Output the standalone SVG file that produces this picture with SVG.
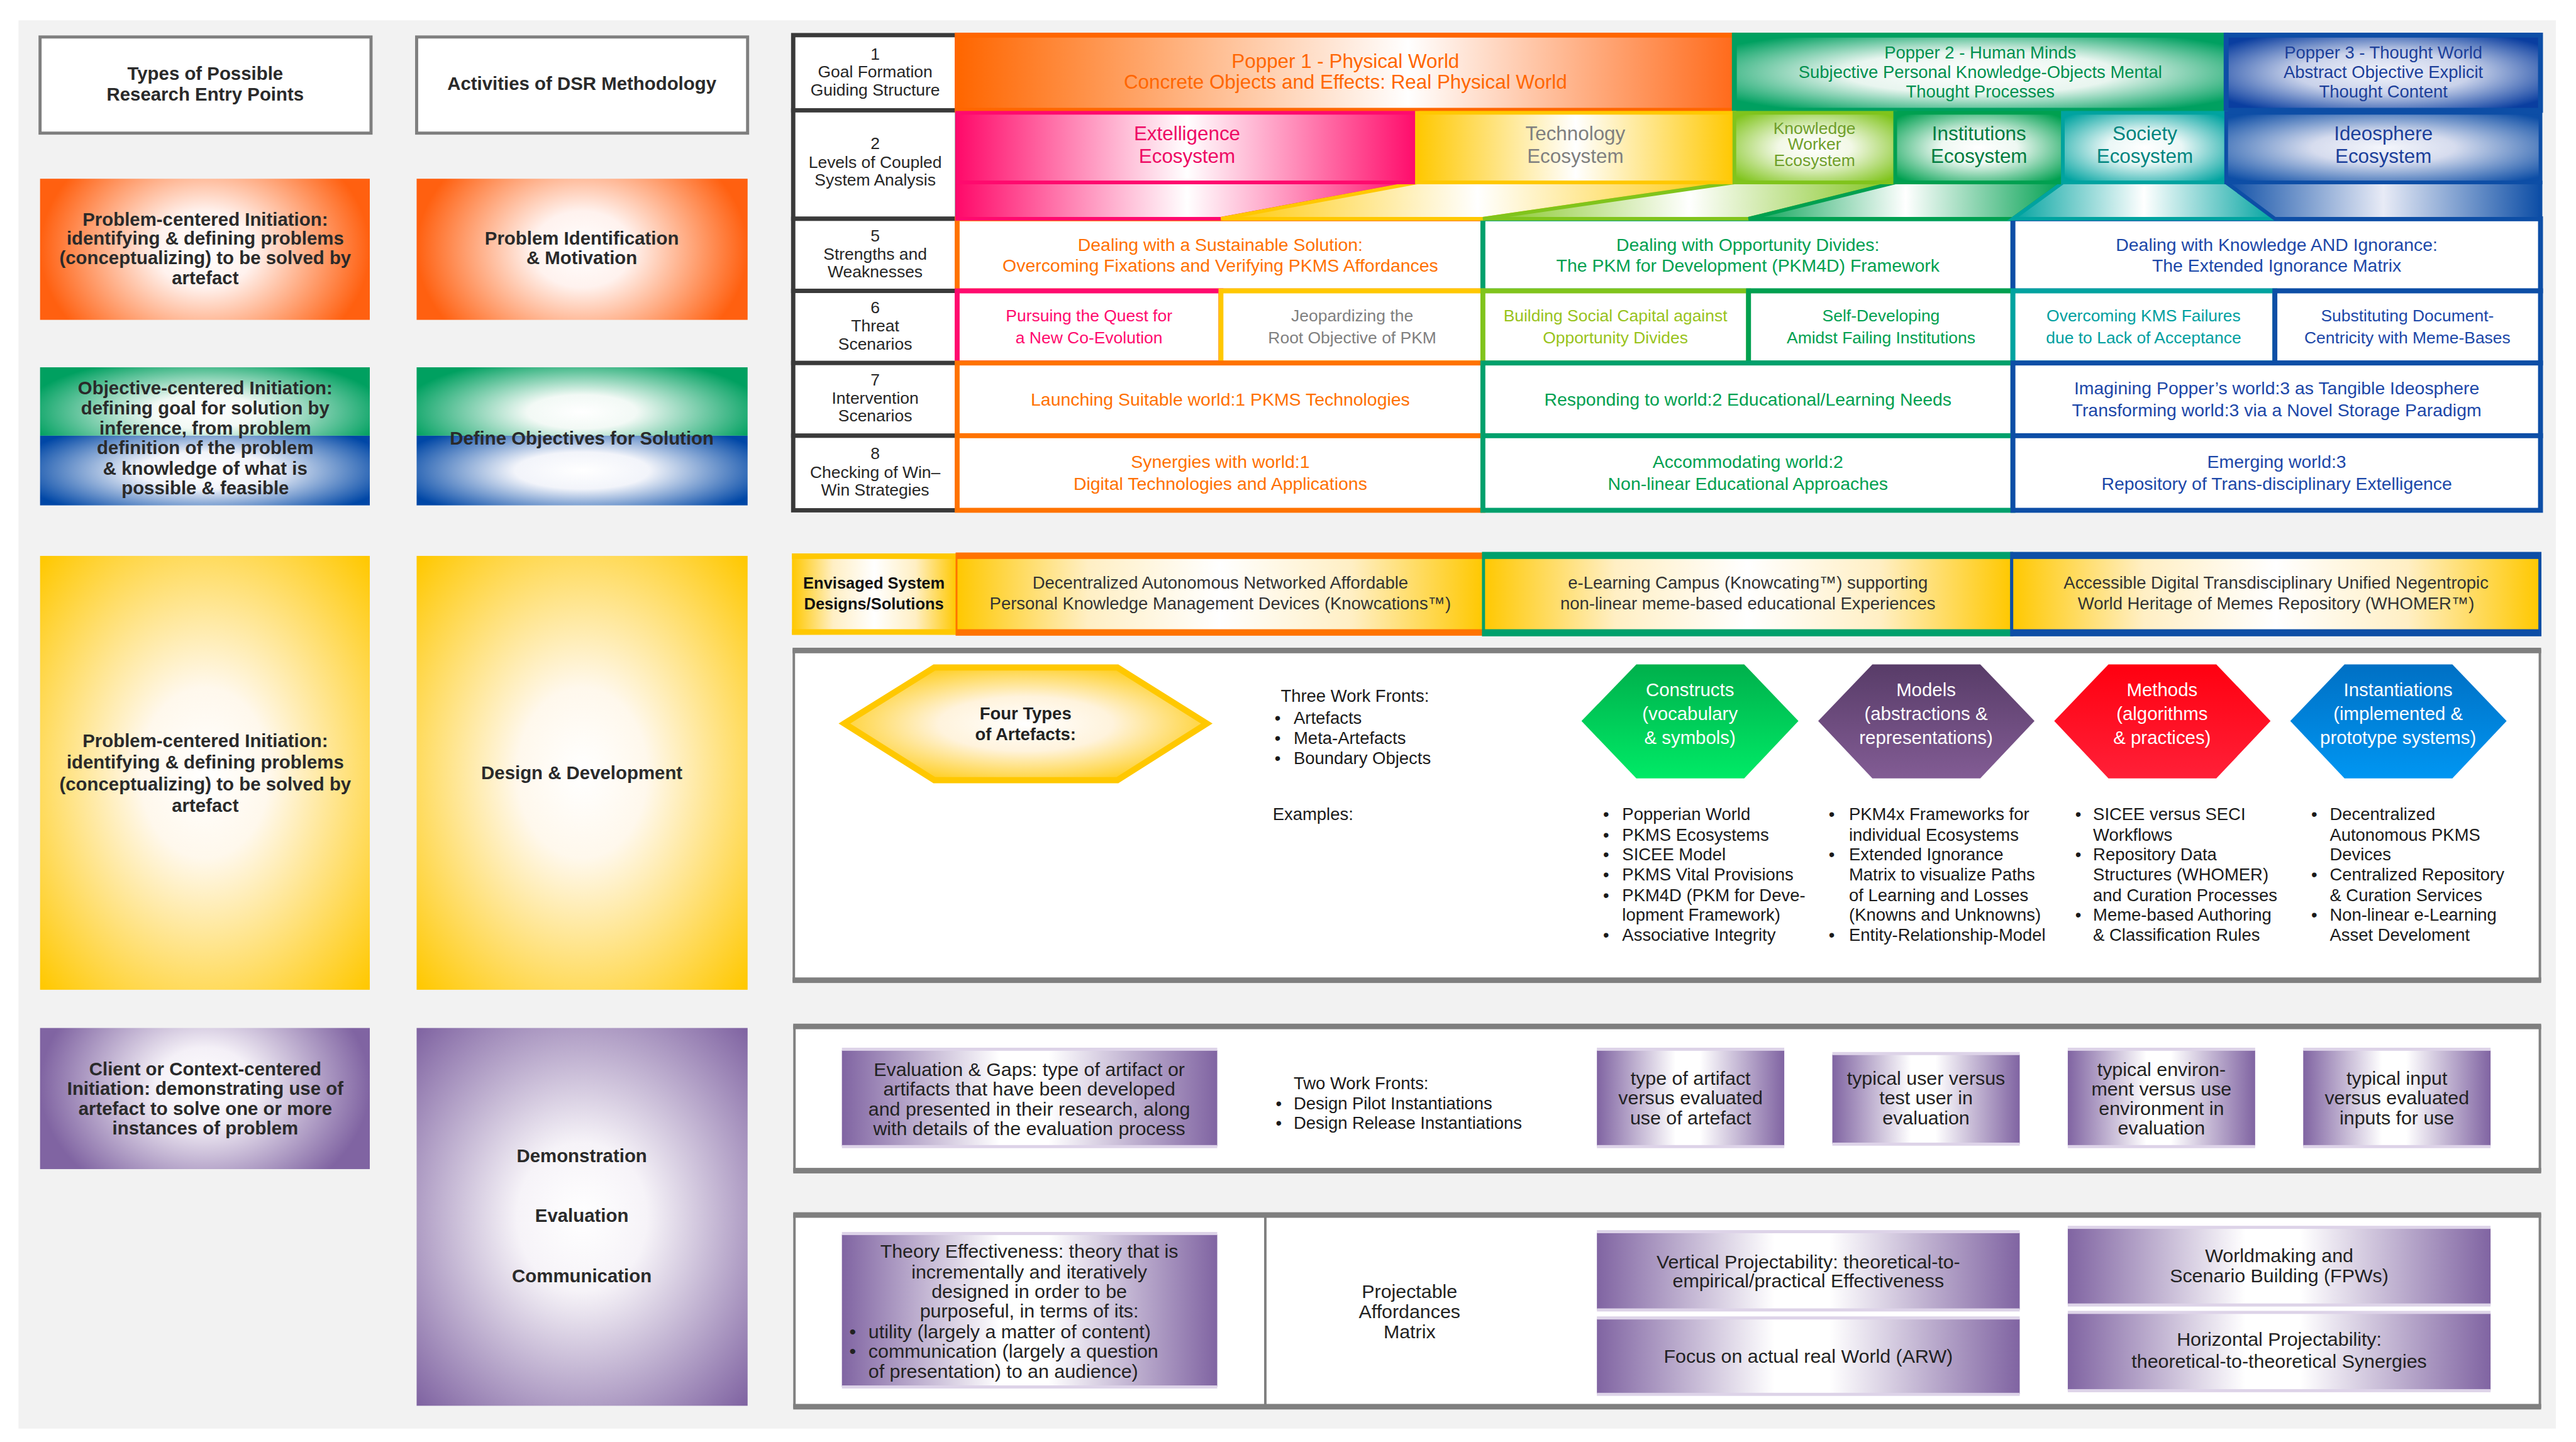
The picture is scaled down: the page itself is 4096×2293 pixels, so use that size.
<svg xmlns="http://www.w3.org/2000/svg" width="4096" height="2293" viewBox="0 0 4096 2293">
<defs>
<linearGradient id="gP1" x1="0" y1="0" x2="1" y2="0"><stop offset="0" stop-color="#ff6600"/><stop offset=".58" stop-color="#ffffff"/><stop offset="1" stop-color="#ff6a1a"/></linearGradient>
<radialGradient id="rP2" cx=".5" cy=".5" r=".62"><stop offset="0" stop-color="#ffffff"/><stop offset=".45" stop-color="#e8f5ef"/><stop offset="1" stop-color="#00a060"/></radialGradient>
<radialGradient id="rP3" cx=".5" cy=".5" r=".62"><stop offset="0" stop-color="#f2f4fb"/><stop offset=".45" stop-color="#c9d2ea"/><stop offset="1" stop-color="#0a3ea0"/></radialGradient>
<linearGradient id="hPink" x1="0" y1="0" x2="1" y2="0"><stop offset="0" stop-color="#ff0a6a"/><stop offset=".5" stop-color="#ffffff"/><stop offset="1" stop-color="#ff0a6a"/></linearGradient>
<linearGradient id="hYel" x1="0" y1="0" x2="1" y2="0"><stop offset="0" stop-color="#ffc800"/><stop offset=".5" stop-color="#ffffff"/><stop offset="1" stop-color="#ffc800"/></linearGradient>
<linearGradient id="hLG" x1="0" y1="0" x2="1" y2="0"><stop offset="0" stop-color="#80c41c"/><stop offset=".5" stop-color="#ffffff"/><stop offset="1" stop-color="#80c41c"/></linearGradient>
<linearGradient id="hGrn" x1="0" y1="0" x2="1" y2="0"><stop offset="0" stop-color="#00a050"/><stop offset=".5" stop-color="#ffffff"/><stop offset="1" stop-color="#00a050"/></linearGradient>
<linearGradient id="hTeal" x1="0" y1="0" x2="1" y2="0"><stop offset="0" stop-color="#00a3a0"/><stop offset=".5" stop-color="#ffffff"/><stop offset="1" stop-color="#00a3a0"/></linearGradient>
<linearGradient id="hBlue" x1="0" y1="0" x2="1" y2="0"><stop offset="0" stop-color="#0d4ea6"/><stop offset=".5" stop-color="#e8ebf6"/><stop offset="1" stop-color="#0d4ea6"/></linearGradient>
<radialGradient id="rLG" cx=".5" cy=".5" r=".65"><stop offset="0" stop-color="#ffffff"/><stop offset=".35" stop-color="#f2f8e6"/><stop offset="1" stop-color="#80c41c"/></radialGradient>
<radialGradient id="rGrn" cx=".5" cy=".5" r=".65"><stop offset="0" stop-color="#ffffff"/><stop offset=".35" stop-color="#eef8f2"/><stop offset="1" stop-color="#00a050"/></radialGradient>
<radialGradient id="rTeal" cx=".5" cy=".5" r=".65"><stop offset="0" stop-color="#ffffff"/><stop offset=".35" stop-color="#eaf7f6"/><stop offset="1" stop-color="#00a3a0"/></radialGradient>
<radialGradient id="rBlue" cx=".5" cy=".5" r=".65"><stop offset="0" stop-color="#f4f6fc"/><stop offset=".35" stop-color="#d6dcee"/><stop offset="1" stop-color="#0d4ea6"/></radialGradient>
<radialGradient id="rOr" cx=".5" cy=".5" r=".5" gradientTransform="translate(.5 .5) scale(1 1.8) translate(-.5 -.5)"><stop offset="0" stop-color="#ffffff"/><stop offset=".3" stop-color="#fff2ee"/><stop offset="1" stop-color="#ff6010"/></radialGradient>
<radialGradient id="rPurS" cx=".5" cy=".45" r=".5" gradientTransform="translate(.5 .5) scale(1 1.8) translate(-.5 -.5)"><stop offset="0" stop-color="#ffffff"/><stop offset=".3" stop-color="#f4f0f7"/><stop offset="1" stop-color="#8064a2"/></radialGradient>
<radialGradient id="rGrHalf" cx=".5" cy=".6" r=".55" gradientTransform="translate(.5 .5) scale(1 1.5) translate(-.5 -.5)"><stop offset="0" stop-color="#ffffff"/><stop offset=".3" stop-color="#f2f9f5"/><stop offset="1" stop-color="#00a060"/></radialGradient>
<radialGradient id="rBlHalf" cx=".5" cy=".5" r=".58" gradientTransform="translate(.5 .5) scale(1 1.3) translate(-.5 -.5)"><stop offset="0" stop-color="#ffffff"/><stop offset=".35" stop-color="#f2f4fa"/><stop offset="1" stop-color="#0047a6"/></radialGradient>
<radialGradient id="rYel" cx=".5" cy=".5" r=".7"><stop offset="0" stop-color="#ffffff"/><stop offset=".28" stop-color="#fff8ec"/><stop offset="1" stop-color="#ffc800"/></radialGradient>
<radialGradient id="rPur" cx=".5" cy=".5" r=".7"><stop offset="0" stop-color="#ffffff"/><stop offset=".28" stop-color="#f6f3f8"/><stop offset="1" stop-color="#8064a2"/></radialGradient>
<radialGradient id="rFour" cx=".5" cy=".5" r=".6"><stop offset="0" stop-color="#ffffff"/><stop offset=".4" stop-color="#fff3dc"/><stop offset="1" stop-color="#ffc800"/></radialGradient>
<linearGradient id="hEnv" x1="0" y1="0" x2="1" y2="0"><stop offset="0" stop-color="#ffc800"/><stop offset=".25" stop-color="#ffefc4"/><stop offset=".5" stop-color="#ffffff"/><stop offset=".75" stop-color="#ffefc4"/><stop offset="1" stop-color="#ffc800"/></linearGradient>
<linearGradient id="hPur" x1="0" y1="0" x2="1" y2="0"><stop offset="0" stop-color="#8064a2"/><stop offset=".42" stop-color="#ffffff"/><stop offset=".55" stop-color="#ffffff"/><stop offset="1" stop-color="#8064a2"/></linearGradient>
<linearGradient id="vCon" x1="0" y1="0" x2="0" y2="1"><stop offset="0" stop-color="#00b04c"/><stop offset="1" stop-color="#00ea66"/></linearGradient>
<linearGradient id="vMod" x1="0" y1="0" x2="0" y2="1"><stop offset="0" stop-color="#583c68"/><stop offset="1" stop-color="#825c94"/></linearGradient>
<linearGradient id="vMet" x1="0" y1="0" x2="0" y2="1"><stop offset="0" stop-color="#ff0010"/><stop offset="1" stop-color="#ff2038"/></linearGradient>
<linearGradient id="vIns" x1="0" y1="0" x2="0" y2="1"><stop offset="0" stop-color="#0070c4"/><stop offset="1" stop-color="#0096f2"/></linearGradient>
</defs>
<style>
text { font-family: "Liberation Sans", Arial, sans-serif; }
.c { text-anchor: middle; }
.lc { font-size: 30px; font-weight: bold; fill: #2a2a2a; }
.lab { font-size: 27px; fill: #262626; }
.cell { font-size: 29px; }
.r6 { font-size: 27px; }
.eco { font-size: 32px; }
.env { font-size: 28px; fill: #333333; }
.lst { font-size: 28px; fill: #1a1a1a; }
.hex { font-size: 30px; fill: #ffffff; }
.pb { font-size: 31px; fill: #222222; }
.hdr { fill: #ffffff; stroke: #7f7f7f; stroke-width: 5; }
.lbl { fill: #ffffff; stroke: #3a3a3a; stroke-width: 7; }
.frame { fill: #ffffff; stroke: #808080; stroke-width: 4; }
.bar { fill: #7f7f7f; }
.band { fill: #ddd3e8; }
.w1 { fill: #ffffff; stroke: #ff7300; stroke-width: 8; }
.w2 { fill: #ffffff; stroke: #00a06c; stroke-width: 8; }
.w3 { fill: #ffffff; stroke: #0d4ea6; stroke-width: 8; }
.t1 { fill: #ff7000; }
.t2 { fill: #00a050; }
.t3 { fill: #1c47a8; }
</style>
<rect width="4096" height="2293" fill="#ffffff"/>
<g transform="scale(0.98)">
<rect x="30" y="33" width="4117" height="2285" fill="#f2f2f2"/>

<!-- Left columns -->
<g id="hdr-entry"><rect class="hdr" x="65" y="60" width="537" height="156"/><text class="lc c"><tspan x="333" y="130">Types of Possible</tspan><tspan x="333" y="163">Research Entry Points</tspan></text></g>
<g id="hdr-activities"><rect class="hdr" x="676" y="60" width="537" height="156"/><text class="lc c"><tspan x="944" y="146">Activities of DSR Methodology</tspan></text></g>

<g id="entry-problem"><rect x="65" y="290" width="535" height="229" fill="url(#rOr)"/><text class="lc c"><tspan x="333" y="366">Problem-centered Initiation:</tspan><tspan x="333" y="397">identifying &amp; defining problems</tspan><tspan x="333" y="429">(conceptualizing) to be solved by</tspan><tspan x="333" y="461">artefact</tspan></text></g>
<g id="act-problem"><rect x="676" y="290" width="537" height="229" fill="url(#rOr)"/><text class="lc c"><tspan x="944" y="397">Problem Identification</tspan><tspan x="944" y="429">&amp; Motivation</tspan></text></g>

<g id="entry-objective"><rect x="65" y="596" width="535" height="111" fill="url(#rGrHalf)"/><rect x="65" y="707" width="535" height="113" fill="url(#rBlHalf)"/><text class="lc c"><tspan x="333" y="640">Objective-centered Initiation:</tspan><tspan x="333" y="672">defining goal for solution by</tspan><tspan x="333" y="705">inference, from problem</tspan><tspan x="333" y="737">definition of the problem</tspan><tspan x="333" y="770">&amp; knowledge of what is</tspan><tspan x="333" y="802">possible &amp; feasible</tspan></text></g>
<g id="act-objective"><rect x="676" y="596" width="537" height="111" fill="url(#rGrHalf)"/><rect x="676" y="707" width="537" height="113" fill="url(#rBlHalf)"/><text class="lc c"><tspan x="944" y="721">Define Objectives for Solution</tspan></text></g>

<g id="entry-design"><rect x="65" y="902" width="535" height="704" fill="url(#rYel)"/><text class="lc c"><tspan x="333" y="1212">Problem-centered Initiation:</tspan><tspan x="333" y="1247">identifying &amp; defining problems</tspan><tspan x="333" y="1283">(conceptualizing) to be solved by</tspan><tspan x="333" y="1317">artefact</tspan></text></g>
<g id="act-design"><rect x="676" y="902" width="537" height="704" fill="url(#rYel)"/><text class="lc c"><tspan x="944" y="1264">Design &amp; Development</tspan></text></g>

<g id="entry-client"><rect x="65" y="1668" width="535" height="229" fill="url(#rPurS)"/><text class="lc c"><tspan x="333" y="1745">Client or Context-centered</tspan><tspan x="333" y="1777">Initiation: demonstrating use of</tspan><tspan x="333" y="1809">artefact to solve one or more</tspan><tspan x="333" y="1841">instances of problem</tspan></text></g>
<g id="act-demo"><rect x="676" y="1668" width="537" height="613" fill="url(#rPur)"/><text class="lc c"><tspan x="944" y="1886">Demonstration</tspan><tspan x="944" y="1983">Evaluation</tspan><tspan x="944" y="2081">Communication</tspan></text></g>

<!-- Table: label column -->
<g id="lbl-1"><rect class="lbl" x="1287" y="57" width="266" height="122"/><text class="lab c"><tspan x="1420" y="97">1</tspan><tspan x="1420" y="126">Goal Formation</tspan><tspan x="1420" y="155">Guiding Structure</tspan></text></g>
<g id="lbl-2"><rect class="lbl" x="1287" y="179" width="266" height="176"/><text class="lab c"><tspan x="1420" y="242">2</tspan><tspan x="1420" y="272">Levels of Coupled</tspan><tspan x="1420" y="301">System Analysis</tspan></text></g>
<g id="lbl-5"><rect class="lbl" x="1287" y="355" width="266" height="117"/><text class="lab c"><tspan x="1420" y="392">5</tspan><tspan x="1420" y="421">Strengths and</tspan><tspan x="1420" y="450">Weaknesses</tspan></text></g>
<g id="lbl-6"><rect class="lbl" x="1287" y="472" width="266" height="117"/><text class="lab c"><tspan x="1420" y="508">6</tspan><tspan x="1420" y="538">Threat</tspan><tspan x="1420" y="567">Scenarios</tspan></text></g>
<g id="lbl-7"><rect class="lbl" x="1287" y="589" width="266" height="118"/><text class="lab c"><tspan x="1420" y="626">7</tspan><tspan x="1420" y="655">Intervention</tspan><tspan x="1420" y="684">Scenarios</tspan></text></g>
<g id="lbl-8"><rect class="lbl" x="1287" y="707" width="266" height="121"/><text class="lab c"><tspan x="1420" y="745">8</tspan><tspan x="1420" y="775">Checking of Win–</tspan><tspan x="1420" y="804">Win Strategies</tspan></text></g>

<!-- Row 1 -->
<g id="popper1"><rect x="1553" y="57" width="1261" height="122" fill="url(#gP1)" stroke="#ff6600" stroke-width="8"/><text class="c" font-size="32" fill="#ff6600"><tspan x="2183" y="110">Popper 1 - Physical World</tspan><tspan x="2183" y="144">Concrete Objects and Effects: Real Physical World</tspan></text></g>
<g id="popper2"><rect x="2814" y="57" width="798" height="122" fill="url(#rP2)" stroke="#00a060" stroke-width="8"/><text class="c" font-size="28" fill="#00904f"><tspan x="3213" y="95">Popper 2 - Human Minds</tspan><tspan x="3213" y="127">Subjective Personal Knowledge-Objects Mental</tspan><tspan x="3213" y="158">Thought Processes</tspan></text></g>
<g id="popper3"><rect x="3612" y="57" width="510" height="122" fill="url(#rP3)" stroke="#0d4ea6" stroke-width="8"/><text class="c" font-size="28" fill="#1c3f9a"><tspan x="3867" y="95">Popper 3 - Thought World</tspan><tspan x="3867" y="127">Abstract Objective Explicit</tspan><tspan x="3867" y="158">Thought Content</tspan></text></g>

<!-- Rows 5-8 -->
<g id="r5-w1"><rect class="w1" x="1553" y="355" width="853" height="117"/><text class="cell c t1"><tspan x="1980" y="407">Dealing with a Sustainable Solution:</tspan><tspan x="1980" y="441">Overcoming Fixations and Verifying PKMS Affordances</tspan></text></g>
<g id="r5-w2"><rect class="w2" x="2406" y="355" width="860" height="117"/><text class="cell c t2"><tspan x="2836" y="407">Dealing with Opportunity Divides:</tspan><tspan x="2836" y="441">The PKM for Development (PKM4D) Framework</tspan></text></g>
<g id="r5-w3"><rect class="w3" x="3266" y="355" width="856" height="117"/><text class="cell c t3"><tspan x="3694" y="407">Dealing with Knowledge AND Ignorance:</tspan><tspan x="3694" y="441">The Extended Ignorance Matrix</tspan></text></g>

<g id="r6-pursuing"><rect x="1553" y="472" width="428" height="117" fill="#fff" stroke="#ff0a6e" stroke-width="8"/><text class="r6 c" fill="#ff0a6e"><tspan x="1767" y="521">Pursuing the Quest for</tspan><tspan x="1767" y="557">a New Co-Evolution</tspan></text></g>
<g id="r6-jeopardizing"><rect x="1981" y="472" width="425" height="117" fill="#fff" stroke="#ffc800" stroke-width="8"/><text class="r6 c" fill="#808080"><tspan x="2194" y="521">Jeopardizing the</tspan><tspan x="2194" y="557">Root Objective of PKM</tspan></text></g>
<g id="r6-building"><rect x="2406" y="472" width="431" height="117" fill="#fff" stroke="#80c41c" stroke-width="8"/><text class="r6 c" fill="#99c31c"><tspan x="2621" y="521">Building Social Capital against</tspan><tspan x="2621" y="557">Opportunity Divides</tspan></text></g>
<g id="r6-selfdev"><rect x="2837" y="472" width="429" height="117" fill="#fff" stroke="#00a050" stroke-width="8"/><text class="r6 c t2"><tspan x="3052" y="521">Self-Developing</tspan><tspan x="3052" y="557">Amidst Failing Institutions</tspan></text></g>
<g id="r6-overcoming"><rect x="3266" y="472" width="425" height="117" fill="#fff" stroke="#00a3a0" stroke-width="8"/><text class="r6 c" fill="#00a0a0"><tspan x="3478" y="521">Overcoming KMS Failures</tspan><tspan x="3478" y="557">due to Lack of Acceptance</tspan></text></g>
<g id="r6-substituting"><rect x="3691" y="472" width="431" height="117" fill="#fff" stroke="#0d4ea6" stroke-width="8"/><text class="r6 c t3"><tspan x="3906" y="521">Substituting Document-</tspan><tspan x="3906" y="557">Centricity with Meme-Bases</tspan></text></g>

<g id="r7-w1"><rect class="w1" x="1553" y="589" width="853" height="118"/><text class="cell c t1"><tspan x="1980" y="658">Launching Suitable world:1 PKMS Technologies</tspan></text></g>
<g id="r7-w2"><rect class="w2" x="2406" y="589" width="860" height="118"/><text class="cell c t2"><tspan x="2836" y="658">Responding to world:2 Educational/Learning Needs</tspan></text></g>
<g id="r7-w3"><rect class="w3" x="3266" y="589" width="856" height="118"/><text class="cell c t3"><tspan x="3694" y="640">Imagining Popper’s world:3 as Tangible Ideosphere</tspan><tspan x="3694" y="676">Transforming world:3 via a Novel Storage Paradigm</tspan></text></g>

<g id="r8-w1"><rect class="w1" x="1553" y="707" width="853" height="121"/><text class="cell c t1"><tspan x="1980" y="759">Synergies with world:1</tspan><tspan x="1980" y="795">Digital Technologies and Applications</tspan></text></g>
<g id="r8-w2"><rect class="w2" x="2406" y="707" width="860" height="121"/><text class="cell c t2"><tspan x="2836" y="759">Accommodating world:2</tspan><tspan x="2836" y="795">Non-linear Educational Approaches</tspan></text></g>
<g id="r8-w3"><rect class="w3" x="3266" y="707" width="856" height="121"/><text class="cell c t3"><tspan x="3694" y="759">Emerging world:3</tspan><tspan x="3694" y="795">Repository of Trans-disciplinary Extelligence</tspan></text></g>

<!-- Connectors: ecosystem funnels -->
<g id="connectors" stroke-width="6" stroke-linejoin="miter">
<polygon points="1553,296 2299,296 1981,355 1553,355" fill="url(#hPink)" stroke="#ff0a6e"/>
<polygon points="2299,296 2814,296 2406,355 1981,355" fill="url(#hYel)" stroke="#ffc800"/>
<polygon points="2814,296 3075,296 2837,355 2406,355" fill="url(#hLG)" stroke="#80c41c"/>
<polygon points="3075,296 3347,296 3266,355 2837,355" fill="url(#hGrn)" stroke="#00a050"/>
<polygon points="3347,296 3612,296 3691,355 3266,355" fill="url(#hTeal)" stroke="#00a3a0"/>
<polygon points="3612,296 4122,296 4122,355 3691,355" fill="url(#hBlue)" stroke="#0d4ea6"/>
</g>

<!-- Row 2 ecosystems -->
<g id="eco-extelligence"><rect x="1553" y="183" width="746" height="113" fill="url(#hPink)" stroke="#ff0a6e" stroke-width="6"/><text class="eco c" fill="#ee0a64"><tspan x="1926" y="228">Extelligence</tspan><tspan x="1926" y="264">Ecosystem</tspan></text></g>
<g id="eco-technology"><rect x="2299" y="183" width="515" height="113" fill="url(#hYel)" stroke="#ffc800" stroke-width="6"/><text class="eco c" fill="#7f7f7f"><tspan x="2556" y="228">Technology</tspan><tspan x="2556" y="264">Ecosystem</tspan></text></g>
<g id="eco-kw"><rect x="2814" y="183" width="261" height="113" fill="url(#rLG)" stroke="#80c41c" stroke-width="6"/><text class="c" font-size="27" fill="#6f9f2a"><tspan x="2944" y="217">Knowledge</tspan><tspan x="2944" y="243">Worker</tspan><tspan x="2944" y="269">Ecosystem</tspan></text></g>
<g id="eco-institutions"><rect x="3075" y="183" width="272" height="113" fill="url(#rGrn)" stroke="#00a050" stroke-width="6"/><text class="eco c" fill="#007c40"><tspan x="3211" y="228">Institutions</tspan><tspan x="3211" y="264">Ecosystem</tspan></text></g>
<g id="eco-society"><rect x="3347" y="183" width="265" height="113" fill="url(#rTeal)" stroke="#00a3a0" stroke-width="6"/><text class="eco c" fill="#00857f"><tspan x="3480" y="228">Society</tspan><tspan x="3480" y="264">Ecosystem</tspan></text></g>
<g id="eco-ideosphere"><rect x="3612" y="183" width="510" height="113" fill="url(#rBlue)" stroke="#0d4ea6" stroke-width="6"/><text class="eco c" fill="#1c3f9a"><tspan x="3867" y="228">Ideosphere</tspan><tspan x="3867" y="264">Ecosystem</tspan></text></g>

<!-- Envisaged row -->
<g id="env-label"><rect x="1285" y="898" width="267" height="132" fill="url(#hEnv)"/><rect x="1285" y="898" width="267" height="9" fill="#ffc800"/><rect x="1285" y="1021" width="267" height="9" fill="#ffc800"/><text class="c" font-size="26" font-weight="bold" fill="#111"><tspan x="1418" y="955">Envisaged System</tspan><tspan x="1418" y="989">Designs/Solutions</tspan></text></g>
<g id="env-1"><rect x="1552" y="898" width="855" height="132" fill="url(#hEnv)" stroke="#ff7300" stroke-width="3"/><rect x="1552" y="898" width="855" height="9" fill="#ff7300"/><rect x="1552" y="1021" width="855" height="9" fill="#ff7300"/><text class="env c"><tspan x="1980" y="955">Decentralized Autonomous Networked Affordable</tspan><tspan x="1980" y="989">Personal Knowledge Management Devices (Knowcations™)</tspan></text></g>
<g id="env-2"><rect x="2407" y="898" width="857" height="132" fill="url(#hEnv)" stroke="#00a06c" stroke-width="5"/><rect x="2407" y="898" width="857" height="9" fill="#00a06c"/><rect x="2407" y="1021" width="857" height="9" fill="#00a06c"/><text class="env c"><tspan x="2836" y="955">e-Learning Campus (Knowcating™) supporting</tspan><tspan x="2836" y="989">non-linear meme-based educational Experiences</tspan></text></g>
<g id="env-3"><rect x="3264" y="898" width="857" height="132" fill="url(#hEnv)" stroke="#0d4ea6" stroke-width="5"/><rect x="3264" y="898" width="857" height="9" fill="#0d4ea6"/><rect x="3264" y="1021" width="857" height="9" fill="#0d4ea6"/><text class="env c"><tspan x="3693" y="955">Accessible Digital Transdisciplinary Unified Negentropic</tspan><tspan x="3693" y="989">World Heritage of Memes Repository (WHOMER™)</tspan></text></g>

<!-- Artefacts frame -->
<g id="artefacts-frame"><rect class="frame" x="1288" y="1055" width="2833" height="536"/><rect class="bar" x="1286" y="1051" width="2837" height="9"/><rect class="bar" x="1286" y="1586" width="2837" height="9"/></g>
<g id="four-types"><polygon points="1370,1174 1516,1083 1813,1083 1958,1174 1813,1266 1516,1266" fill="url(#rFour)" stroke="#ffc800" stroke-width="10"/><text class="c" font-size="28" font-weight="bold" fill="#222"><tspan x="1664" y="1167">Four Types</tspan><tspan x="1664" y="1201">of Artefacts:</tspan></text></g>
<g id="work-fronts-3"><text class="lst"><tspan x="2078" y="1139">Three Work Fronts:</tspan></text><text class="lst"><tspan x="2068" y="1174">•</tspan><tspan x="2099" y="1174">Artefacts</tspan><tspan x="2068" y="1207">•</tspan><tspan x="2099" y="1207">Meta-Artefacts</tspan><tspan x="2068" y="1240">•</tspan><tspan x="2099" y="1240">Boundary Objects</tspan></text><text class="lst"><tspan x="2065" y="1331">Examples:</tspan></text></g>

<g id="constructs"><polygon points="2566,1170 2655,1078 2830,1078 2918,1170 2830,1263 2655,1263" fill="url(#vCon)"/><text class="hex c"><tspan x="2742" y="1130">Constructs</tspan><tspan x="2742" y="1168">(vocabulary</tspan><tspan x="2742" y="1207">&amp; symbols)</tspan></text></g>
<g id="models"><polygon points="2950,1170 3038,1078 3213,1078 3301,1170 3213,1263 3038,1263" fill="url(#vMod)"/><text class="hex c"><tspan x="3125" y="1130">Models</tspan><tspan x="3125" y="1168">(abstractions &amp;</tspan><tspan x="3125" y="1207">representations)</tspan></text></g>
<g id="methods"><polygon points="3333,1170 3421,1078 3596,1078 3684,1170 3596,1263 3421,1263" fill="url(#vMet)"/><text class="hex c"><tspan x="3508" y="1130">Methods</tspan><tspan x="3508" y="1168">(algorithms</tspan><tspan x="3508" y="1207">&amp; practices)</tspan></text></g>
<g id="instantiations"><polygon points="3716,1170 3804,1078 3979,1078 4067,1170 3979,1263 3804,1263" fill="url(#vIns)"/><text class="hex c"><tspan x="3891" y="1130">Instantiations</tspan><tspan x="3891" y="1168">(implemented &amp;</tspan><tspan x="3891" y="1207">prototype systems)</tspan></text></g>

<g id="ex-constructs"><text class="lst">
<tspan x="2601" y="1331">•</tspan><tspan x="2632" y="1331">Popperian World</tspan>
<tspan x="2601" y="1364">•</tspan><tspan x="2632" y="1364">PKMS Ecosystems</tspan>
<tspan x="2601" y="1396">•</tspan><tspan x="2632" y="1396">SICEE Model</tspan>
<tspan x="2601" y="1429">•</tspan><tspan x="2632" y="1429">PKMS Vital Provisions</tspan>
<tspan x="2601" y="1462">•</tspan><tspan x="2632" y="1462">PKM4D (PKM for Deve-</tspan>
<tspan x="2632" y="1494">lopment Framework)</tspan>
<tspan x="2601" y="1527">•</tspan><tspan x="2632" y="1527">Associative Integrity</tspan></text></g>
<g id="ex-models"><text class="lst">
<tspan x="2967" y="1331">•</tspan><tspan x="3000" y="1331">PKM4x Frameworks for</tspan>
<tspan x="3000" y="1364">individual Ecosystems</tspan>
<tspan x="2967" y="1396">•</tspan><tspan x="3000" y="1396">Extended Ignorance</tspan>
<tspan x="3000" y="1429">Matrix to visualize Paths</tspan>
<tspan x="3000" y="1462">of Learning and Losses</tspan>
<tspan x="3000" y="1494">(Knowns and Unknowns)</tspan>
<tspan x="2967" y="1527">•</tspan><tspan x="3000" y="1527">Entity-Relationship-Model</tspan></text></g>
<g id="ex-methods"><text class="lst">
<tspan x="3367" y="1331">•</tspan><tspan x="3396" y="1331">SICEE versus SECI</tspan>
<tspan x="3396" y="1364">Workflows</tspan>
<tspan x="3367" y="1396">•</tspan><tspan x="3396" y="1396">Repository Data</tspan>
<tspan x="3396" y="1429">Structures (WHOMER)</tspan>
<tspan x="3396" y="1462">and Curation Processes</tspan>
<tspan x="3367" y="1494">•</tspan><tspan x="3396" y="1494">Meme-based Authoring</tspan>
<tspan x="3396" y="1527">&amp; Classification Rules</tspan></text></g>
<g id="ex-instantiations"><text class="lst">
<tspan x="3750" y="1331">•</tspan><tspan x="3780" y="1331">Decentralized</tspan>
<tspan x="3780" y="1364">Autonomous PKMS</tspan>
<tspan x="3780" y="1396">Devices</tspan>
<tspan x="3750" y="1429">•</tspan><tspan x="3780" y="1429">Centralized Repository</tspan>
<tspan x="3780" y="1462">&amp; Curation Services</tspan>
<tspan x="3750" y="1494">•</tspan><tspan x="3780" y="1494">Non-linear e-Learning</tspan>
<tspan x="3780" y="1527">Asset Develoment</tspan></text></g>

<!-- Evaluation frame -->
<g id="evaluation-frame"><rect class="frame" x="1289" y="1665" width="2832" height="235"/><rect class="bar" x="1287" y="1661" width="2836" height="9"/><rect class="bar" x="1287" y="1895" width="2836" height="9"/></g>
<g id="eval-gaps"><rect x="1366" y="1704" width="609" height="156" fill="url(#hPur)"/><rect class="band" x="1366" y="1700" width="609" height="5"/><rect class="band" x="1366" y="1858" width="609" height="5"/><text class="pb c"><tspan x="1670" y="1746">Evaluation &amp; Gaps: type of artifact or</tspan><tspan x="1670" y="1778">artifacts that have been developed</tspan><tspan x="1670" y="1810">and presented in their research, along</tspan><tspan x="1670" y="1842">with details of the evaluation process</tspan></text></g>
<g id="work-fronts-2"><text class="lst"><tspan x="2099" y="1767">Two Work Fronts:</tspan><tspan x="2070" y="1800">•</tspan><tspan x="2099" y="1800">Design Pilot Instantiations</tspan><tspan x="2070" y="1832">•</tspan><tspan x="2099" y="1832">Design Release Instantiations</tspan></text></g>
<g id="eval-artifact"><rect x="2591" y="1704" width="304" height="156" fill="url(#hPur)"/><rect class="band" x="2591" y="1700" width="304" height="5"/><rect class="band" x="2591" y="1858" width="304" height="5"/><text class="pb c"><tspan x="2743" y="1760">type of artifact</tspan><tspan x="2743" y="1792">versus evaluated</tspan><tspan x="2743" y="1824">use of artefact</tspan></text></g>
<g id="eval-user"><rect x="2973" y="1711" width="304" height="145" fill="url(#hPur)"/><rect class="band" x="2973" y="1707" width="304" height="5"/><rect class="band" x="2973" y="1854" width="304" height="5"/><text class="pb c"><tspan x="3125" y="1760">typical user versus</tspan><tspan x="3125" y="1792">test user in</tspan><tspan x="3125" y="1824">evaluation</tspan></text></g>
<g id="eval-environment"><rect x="3355" y="1704" width="304" height="156" fill="url(#hPur)"/><rect class="band" x="3355" y="1700" width="304" height="5"/><rect class="band" x="3355" y="1858" width="304" height="5"/><text class="pb c"><tspan x="3507" y="1746">typical environ-</tspan><tspan x="3507" y="1778">ment versus use</tspan><tspan x="3507" y="1809">environment in</tspan><tspan x="3507" y="1841">evaluation</tspan></text></g>
<g id="eval-input"><rect x="3737" y="1704" width="304" height="156" fill="url(#hPur)"/><rect class="band" x="3737" y="1700" width="304" height="5"/><rect class="band" x="3737" y="1858" width="304" height="5"/><text class="pb c"><tspan x="3889" y="1760">typical input</tspan><tspan x="3889" y="1792">versus evaluated</tspan><tspan x="3889" y="1824">inputs for use</tspan></text></g>

<!-- Projectability frame -->
<g id="projectability-frame"><rect class="frame" x="1289" y="1971" width="2832" height="312"/><rect class="bar" x="1287" y="1967" width="2836" height="9"/><rect class="bar" x="1287" y="2278" width="2836" height="9"/><line x1="2053" y1="1971" x2="2053" y2="2283" stroke="#7f7f7f" stroke-width="4"/></g>
<g id="theory"><rect x="1366" y="2003" width="609" height="247" fill="url(#hPur)"/><rect class="band" x="1366" y="1999" width="609" height="5"/><rect class="band" x="1366" y="2248" width="609" height="5"/><text class="pb"><tspan text-anchor="middle" x="1670" y="2041">Theory Effectiveness: theory that is</tspan><tspan text-anchor="middle" x="1670" y="2074">incrementally and iteratively</tspan><tspan text-anchor="middle" x="1670" y="2106">designed in order to be</tspan><tspan text-anchor="middle" x="1670" y="2138">purposeful, in terms of its:</tspan></text><text class="pb"><tspan x="1378" y="2171">•</tspan><tspan x="1409" y="2171">utility (largely a matter of content)</tspan><tspan x="1378" y="2203">•</tspan><tspan x="1409" y="2203">communication (largely a question</tspan><tspan x="1409" y="2236">of presentation) to an audience)</tspan></text></g>
<g id="pam"><text class="pb c"><tspan x="2287" y="2106">Projectable</tspan><tspan x="2287" y="2139">Affordances</tspan><tspan x="2287" y="2171">Matrix</tspan></text></g>
<g id="vertical"><rect x="2591" y="2000" width="686" height="125" fill="url(#hPur)"/><rect class="band" x="2591" y="1996" width="686" height="5"/><rect class="band" x="2591" y="2123" width="686" height="5"/><text class="pb c"><tspan x="2934" y="2058">Vertical Projectability: theoretical-to-</tspan><tspan x="2934" y="2089">empirical/practical Effectiveness</tspan></text></g>
<g id="focus"><rect x="2591" y="2140" width="686" height="122" fill="url(#hPur)"/><rect class="band" x="2591" y="2136" width="686" height="5"/><rect class="band" x="2591" y="2260" width="686" height="5"/><text class="pb c"><tspan x="2934" y="2211">Focus on actual real World (ARW)</tspan></text></g>
<g id="worldmaking"><rect x="3355" y="1993" width="686" height="124" fill="url(#hPur)"/><rect class="band" x="3355" y="1989" width="686" height="5"/><rect class="band" x="3355" y="2115" width="686" height="5"/><text class="pb c"><tspan x="3698" y="2048">Worldmaking and</tspan><tspan x="3698" y="2081">Scenario Building (FPWs)</tspan></text></g>
<g id="horizontal"><rect x="3355" y="2131" width="686" height="125" fill="url(#hPur)"/><rect class="band" x="3355" y="2127" width="686" height="5"/><rect class="band" x="3355" y="2254" width="686" height="5"/><text class="pb c"><tspan x="3698" y="2184">Horizontal Projectability:</tspan><tspan x="3698" y="2219">theoretical-to-theoretical Synergies</tspan></text></g>
</g>
</svg>
